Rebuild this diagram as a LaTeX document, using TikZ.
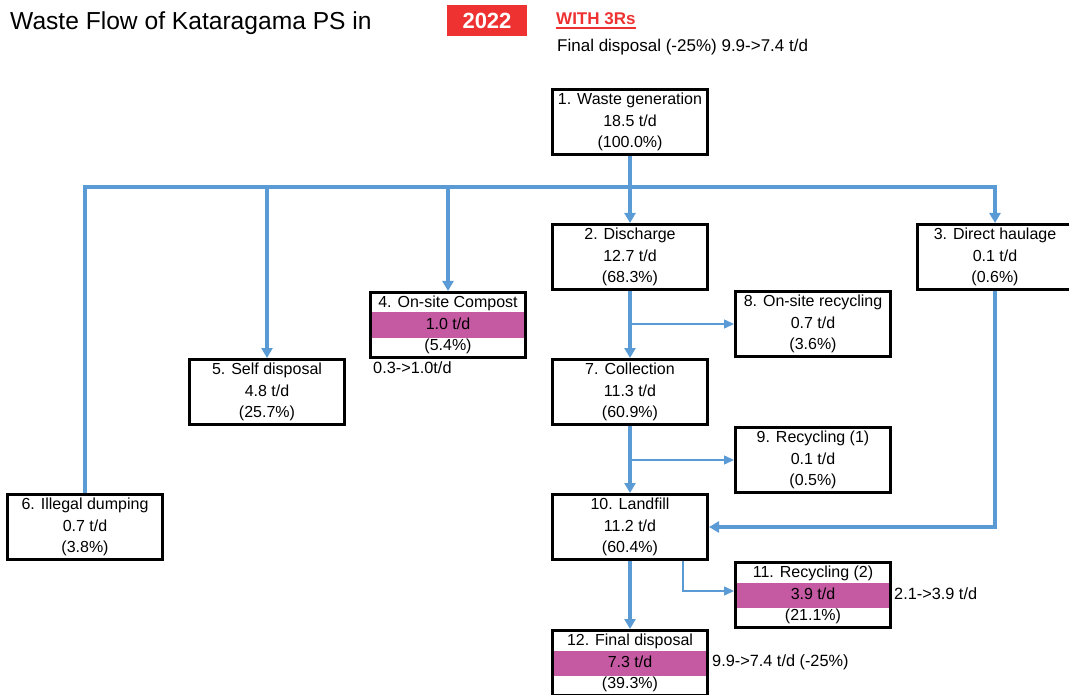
\documentclass[tikz,border=0pt]{standalone}
\usepackage{fontspec}
\setmainfont{Liberation Sans}
\usetikzlibrary{arrows.meta}
\definecolor{flowblue}{RGB}{91,155,213}
\definecolor{rowpink}{RGB}{197,90,163}
\definecolor{yearred}{RGB}{238,50,50}
\pgfdeclarelayer{background}
\pgfsetlayers{background,main}

\begin{document}
\begin{tikzpicture}[x=1pt,y=-1pt,
  stage/.style={draw=black, line width=3pt, minimum width=155pt, minimum height=65pt,
    inner sep=0pt, align=center, font=\fontsize{16}{21.5}\selectfont},
  note/.style={anchor=west, inner sep=0pt, font=\fontsize{16.3}{20}\selectfont},
  flow/.style={draw=flowblue, line width=4pt, line join=miter},
  flowarrow/.style={flow, -{Triangle[width=11pt,length=10pt]}},
  thinflow/.style={draw=flowblue, line width=1.4pt, -{Triangle[width=9pt,length=10pt]}},
  hilite/.style={fill=rowpink}
]
\useasboundingbox (0,0) rectangle (1069,695);

% heading
\node[anchor=base west, inner sep=0pt, font=\fontsize{24.6}{28}\selectfont] (title) at (10,30) {Waste Flow of Kataragama PS in};
\node[fill=yearred, minimum width=80pt, minimum height=31pt, inner sep=0pt, text=white,
      font=\bfseries\fontsize{22}{24}\selectfont] (year) at (487,20.5) {2022};
\node[anchor=base west, inner sep=0pt, text=yearred, font=\bfseries\fontsize{17}{20}\selectfont] (w3r) at (556,25) {WITH 3Rs};
\draw[yearred, line width=1.8pt] ([yshift=-3pt]w3r.base west) -- ([yshift=-3pt]w3r.base east);
\node[anchor=base west, inner sep=0pt, font=\fontsize{17}{20}\selectfont] (sub) at (557,52) {Final disposal (-25\%) 9.9->7.4 t/d};

% stages
\node[stage] (n1) at (630,122) {1. Waste generation\\18.5 t/d\\(100.0\%)};
\node[stage] (n2) at (630,257) {2. Discharge\\12.7 t/d\\(68.3\%)};
\node[stage] (n3) at (995,257) {3. Direct haulage\\0.1 t/d\\(0.6\%)};
\node[stage] (n4) at (448,325) {4. On-site Compost\\1.0 t/d\\(5.4\%)};
\node[stage] (n5) at (267,392) {5. Self disposal\\4.8 t/d\\(25.7\%)};
\node[stage] (n6) at (85,527) {6. Illegal dumping\\0.7 t/d\\(3.8\%)};
\node[stage] (n7) at (630,392) {7. Collection\\11.3 t/d\\(60.9\%)};
\node[stage] (n8) at (813,324) {8. On-site recycling\\0.7 t/d\\(3.6\%)};
\node[stage] (n9) at (813,460) {9. Recycling (1)\\0.1 t/d\\(0.5\%)};
\node[stage] (n10) at (630,527) {10. Landfill\\11.2 t/d\\(60.4\%)};
\node[stage] (n11) at (813,595) {11. Recycling (2)\\3.9 t/d\\(21.1\%)};
\node[stage] (n12) at (630,663) {12. Final disposal\\7.3 t/d\\(39.3\%)};

% highlighted amount rows
\begin{pgfonlayer}{background}
  \fill[hilite] ([yshift=12.5pt]n4.west) rectangle ([yshift=-12.5pt]n4.east);
  \fill[hilite] ([yshift=12.5pt]n11.west) rectangle ([yshift=-12.5pt]n11.east);
  \fill[hilite] ([yshift=12.5pt]n12.west) rectangle ([yshift=-12.5pt]n12.east);
\end{pgfonlayer}

% side notes
\node[note] (c4) at (373,368) {0.3->1.0t/d};
\node[note] (c11) at (894,594) {2.1->3.9 t/d};
\node[note] (c12) at (712,662) {9.9->7.4 t/d (-25\%)};

% distribution bus
\coordinate (bus) at (630,187);
\coordinate (busL) at (85,187);
\coordinate (busR) at (995,187);
\draw[flow] (n1.south) -- (bus);
\draw[flowarrow] (n6.north) -- (busL) -- (busR) -- (n3.north);
\draw[flowarrow] (n5.north |- bus) -- (n5.north);
\draw[flowarrow] (n4.north |- bus) -- (n4.north);
\draw[flowarrow] (bus) -- (n2.north);

% main stream
\draw[flowarrow] (n2.south) -- (n7.north);
\draw[thinflow] (n2.south |- n8.west) -- (n8.west);
\draw[flowarrow] (n7.south) -- (n10.north);
\draw[thinflow] (n7.south |- n9.west) -- (n9.west);
\draw[flowarrow] (n3.south) |- (n10.east);
\draw[flowarrow] (n10.south) -- (n12.north);
\draw[thinflow] ([xshift=53pt]n10.south) |- ([yshift=4pt]n11.west);
\end{tikzpicture}
\end{document}
